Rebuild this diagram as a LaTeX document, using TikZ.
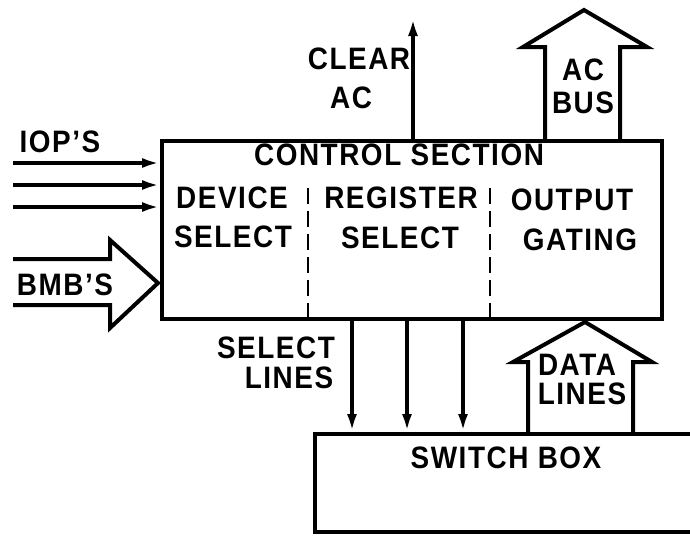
\documentclass[tikz,border=0pt]{standalone}
\usepackage{fontspec}
\setmainfont{Liberation Sans}[LetterSpace=5,FakeStretch=0.9]
\usetikzlibrary{arrows.meta}
\begin{document}
\begin{tikzpicture}[x=1pt,y=-1pt,
  lbl/.style={font=\fontsize{31}{33}\selectfont\bfseries, inner sep=0pt},
  box/.style={draw, line width=4pt, inner sep=0pt},
  wire/.style={line width=4pt},
  sig/.style={wire, -{Latex[length=18pt,width=10pt]}},
  divider/.style={line width=2.8pt, dash pattern=on 16pt off 7pt},
  hollow/.style={line width=4pt, line join=miter}]
\useasboundingbox (0,0) rectangle (690,539);
\fill[white] (0,0) rectangle (690,539);
\clip (0,0) rectangle (690,539);

% boxes
\node[box, minimum width=500pt, minimum height=178pt, anchor=north west] (ctrl) at (160,139) {};
\node[box, minimum width=420pt, minimum height=98pt, anchor=north west] (sw) at (313,432) {};

% texts
\node[lbl] (ctitle) at (399,155) {CONTROL SECTION};
\node[lbl] (dev1) at (232,198) {DEVICE};
\node[lbl] (dev2) at (233,237) {SELECT};
\node[lbl] (reg1) at (401,198) {REGISTER};
\node[lbl] (reg2) at (400,238) {SELECT};
\node[lbl] (out1) at (572,200) {OUTPUT};
\node[lbl] (out2) at (580,240) {GATING};
\node[lbl] (clr1) at (359,59) {CLEAR};
\node[lbl] (clr2) at (351,98) {AC};
\node[lbl] (acb1) at (583,70) {AC};
\node[lbl] (acb2) at (583,103) {BUS};
\node[lbl] (iop) at (60,142) {IOP'S};
\node[lbl] (bmb) at (65,285) {BMB'S};
\node[lbl] (sel1) at (276,348) {SELECT};
\node[lbl] (sel2) at (289,378) {LINES};
\node[lbl] (swt) at (506,458) {SWITCH BOX};
\node[lbl] (dat1) at (577,365) {DATA};
\node[lbl] (dat2) at (582,394) {LINES};

% dividers
\coordinate (d1) at (308,188);
\coordinate (d2) at (490,188);
\draw[divider] (d1) -- (d1 |- ctrl.south);
\draw[divider] (d2) -- (d2 |- ctrl.south);

% IOP inputs
\coordinate (i1) at (13,163);
\coordinate (i2) at (13,185);
\coordinate (i3) at (13,207);
\foreach \c in {i1,i2,i3} \draw[sig] (\c) -- (\c -| ctrl.west);

% clear AC
\coordinate (clr) at (413,18);
\draw[sig] (ctrl.north -| clr) -- (clr);

% select lines
\coordinate (s1) at (352,0);
\coordinate (s2) at (407,0);
\coordinate (s3) at (463,0);
\foreach \c in {s1,s2,s3} \draw[sig] (ctrl.south -| \c) -- (sw.north -| \c);

% AC BUS hollow arrow
\draw[hollow] (545,139) -- (545,47) -- (523,47) -- (584,10) -- (647,47) -- (620,47) -- (620,139);

% BMB's hollow arrow
\draw[hollow] (13,259) -- (110,259) -- (110,240) -- (158,283) -- (110,328) -- (110,305) -- (13,305);

% DATA LINES hollow arrow
\draw[hollow] (528,432) -- (528,362) -- (513,362) -- (585,322) -- (652,362) -- (633,362) -- (633,432);
\end{tikzpicture}
\end{document}
